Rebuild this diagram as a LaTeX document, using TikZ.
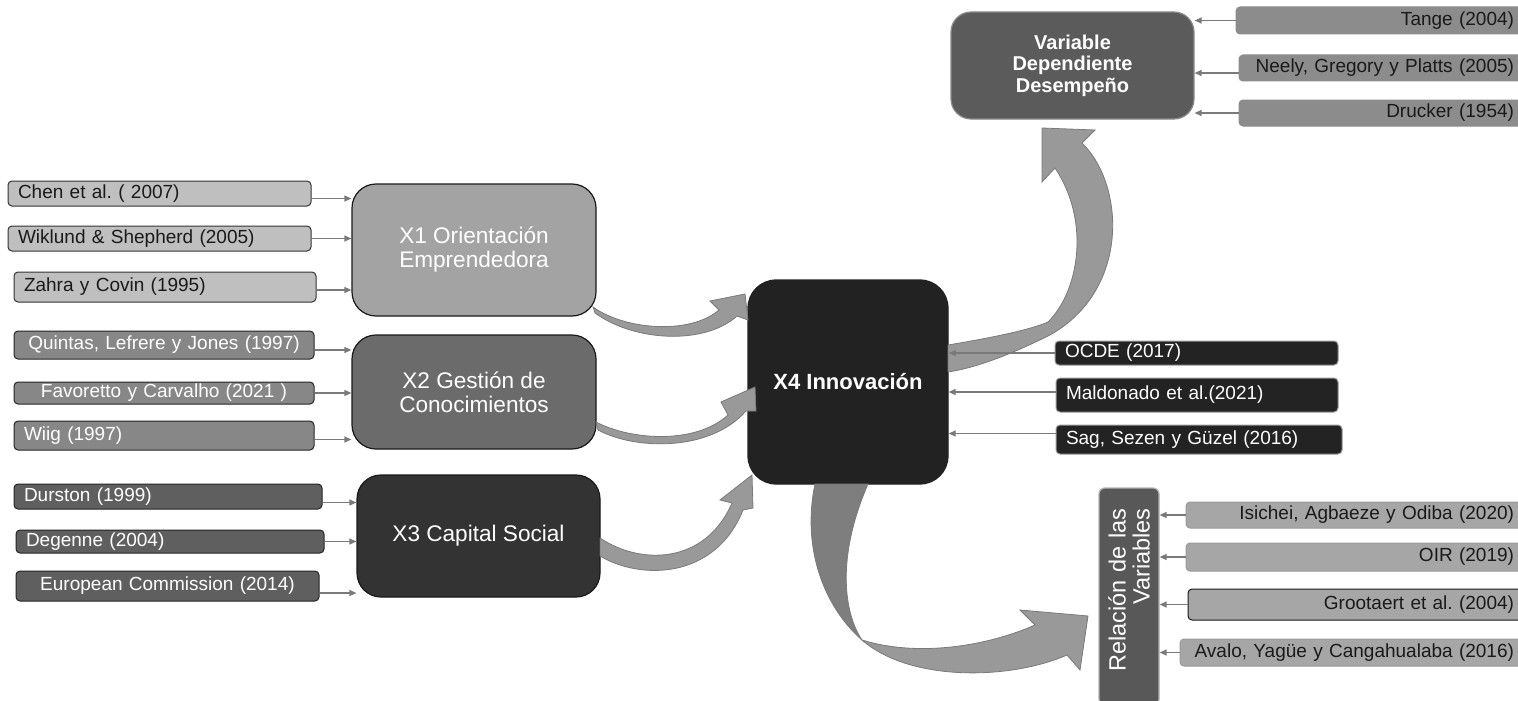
\documentclass[tikz,border=0pt]{standalone}
\usepackage{fontspec}
\setmainfont{Liberation Sans}
\usetikzlibrary{arrows.meta}
\definecolor{lightfill}{HTML}{BFBFBF}
\definecolor{midfill}{HTML}{878787}
\definecolor{darkfill}{HTML}{5F5F5F}
\definecolor{topfill}{HTML}{8C8C8C}
\definecolor{blackfill}{HTML}{232323}
\definecolor{palefill}{HTML}{A6A6A6}
\definecolor{xonefill}{HTML}{A3A3A3}
\definecolor{xtwofill}{HTML}{6B6B6B}
\definecolor{xthreefill}{HTML}{333333}
\definecolor{xfourfill}{HTML}{222222}
\definecolor{depfill}{HTML}{5B5B5B}
\definecolor{relfill}{HTML}{585858}
\definecolor{bandfill}{HTML}{999999}
\definecolor{banddark}{HTML}{7E7E7E}
\definecolor{bandline}{HTML}{7A7A7A}
\definecolor{linkgray}{HTML}{7A7A7A}
\definecolor{inktext}{HTML}{1A1A1A}
\newcommand\reffont{\fontsize{19}{22}\selectfont}
\newcommand\topicfont{\fontsize{22.6}{24}\selectfont}
\newcommand\innofont{\fontsize{22}{24}\selectfont\bfseries}
\newcommand\depfont{\fontsize{20}{21.5}\selectfont\bfseries}
\newcommand\relfont{\fontsize{23.5}{24}\selectfont}
\frenchspacing
\tikzset{ref/.style={rounded corners=4pt,inner xsep=10pt,inner ysep=0pt,line width=1pt,font=\reffont},
  lightref/.style={ref,fill=lightfill,draw=black!80,text=inktext},
  midref/.style={ref,fill=midfill,draw=black!85,text=white},
  darkref/.style={ref,fill=darkfill,draw=black!85,text=white},
  topref/.style={ref,fill=topfill,draw=black!45,text=inktext},
  blackref/.style={ref,fill=blackfill,draw=black!40,text=white},
  paleref/.style={ref,fill=palefill,draw=black!40,text=inktext},
  topic/.style={rounded corners=24pt,line width=1.2pt,align=center,text=white,font=\topicfont,draw=black!90,inner sep=0pt},
  link/.style={-{Triangle[length=7pt,width=6pt]},line width=1.2pt,draw=linkgray,fill=linkgray},
  band/.style={fill=bandfill,draw=bandline,line width=0.8pt}}

\begin{document}
\begin{tikzpicture}[x=1pt,y=-1pt]
  \useasboundingbox (0,0) rectangle (1518,701);
  \fill[white] (0,0) rectangle (1518,701);
  % X1 group
  \node[lightref,text width=283pt,align=left,minimum height=25pt] (chen) at (159.5,193.5) {\raisebox{-6pt}{Chen et al. ( 2007)}};
  \node[lightref,text width=283pt,align=left,minimum height=25pt] (wiklund) at (159.5,238.5) {Wiklund \& Shepherd (2005)};
  \node[lightref,text width=282pt,align=left,minimum height=30pt] (zahra) at (165,287) {Zahra y Covin (1995)};
  \node[topic,fill=xonefill,minimum width=244pt,minimum height=132pt] (x1) at (474,250) {\raisebox{-4pt}{X1 Orientación}\\\raisebox{-4pt}{Emprendedora}};
  % X2 group
  \node[midref,text width=280pt,align=center,minimum height=28pt] (quintas) at (164,345) {Quintas, Lefrere y Jones (1997)};
  \node[midref,text width=280pt,align=center,minimum height=22pt] (favoretto) at (164,393) {Favoretto y Carvalho (2021 )};
  \node[midref,text width=280pt,align=left,minimum height=29pt] (wiig) at (164,435.5) {Wiig (1997)};
  \node[topic,fill=xtwofill,minimum width=244pt,minimum height=114pt] (x2) at (474,392) {X2 Gestión de\\Conocimientos};
  % X3 group
  \node[darkref,text width=288pt,align=left,minimum height=25pt] (durston) at (168,496.5) {Durston (1999)};
  \node[darkref,text width=288pt,align=left,minimum height=23pt] (degenne) at (170,541.5) {Degenne (2004)};
  \node[darkref,text width=283pt,align=center,minimum height=30pt] (european) at (167.5,586) {European Commission (2014)};
  \node[topic,fill=xthreefill,minimum width=243pt,minimum height=122pt] (x3) at (478.5,536) {X3 Capital Social};
  % X4
  \node[topic,fill=xfourfill,draw=xfourfill,rounded corners=28pt,font=\innofont,minimum width=200pt,minimum height=204pt] (x4) at (848,382) {X4 Innovación};
  \node[blackref,text width=263pt,align=left,minimum height=24pt] (ocde) at (1196.5,353) {OCDE (2017)};
  \node[blackref,text width=262pt,align=left,minimum height=34pt] (maldonado) at (1197,395) {Maldonado et al.(2021)};
  \node[blackref,text width=266pt,align=left,minimum height=29pt] (sag) at (1199,439.5) {\raisebox{-3pt}{Sag, Sezen y Güzel (2016)}};
  % dependent variable
  \node[topic,fill=depfill,draw=black!45,rounded corners=20pt,font=\depfont,minimum width=243pt,minimum height=107pt] (dep) at (1072.5,65.5) {\raisebox{-4pt}{Variable}\\\raisebox{-4pt}{Dependiente}\\\raisebox{-4pt}{Desempeño}};
  \node[topref,text width=268pt,align=right,minimum height=27pt] (tange) at (1380,20.5) {Tange (2004)};
  \node[topref,text width=265pt,align=right,minimum height=26pt] (neely) at (1381.5,68) {Neely, Gregory y Platts (2005)};
  \node[topref,text width=265pt,align=right,minimum height=26pt] (drucker) at (1381.5,113) {Drucker (1954)};
  % relation of variables
  \node[topic,fill=relfill,draw=black!30,rounded corners=6pt,rotate=90,font=\relfont,text width=176pt,align=right,minimum width=217pt,minimum height=60pt] (rel) at (1129,596.5) {Relación de las\\Variables};
  \node[paleref,text width=318pt,align=right,minimum height=26pt] (isichei) at (1355,515) {Isichei, Agbaeze y Odiba (2020)};
  \node[paleref,text width=318pt,align=right,minimum height=28pt] (oir) at (1355,557) {OIR (2019)};
  \node[paleref,draw=black!90,text width=316pt,align=right,minimum height=31pt] (grootaert) at (1356,604.5) {Grootaert et al. (2004)};
  \node[paleref,text width=324pt,align=right,minimum height=27pt] (avalo) at (1352,652.5) {Avalo, Yagüe y Cangahualaba (2016)};
  % curved block arrows
  \draw[band] (593,307) .. controls (625,330) and (690,335) .. (719,310) -- (710,301) -- (745,294) -- (748,320) -- (737,316) .. controls (705,345) and (635,342) .. (595,313) -- cycle;
  \draw[band] (596,422) .. controls (630,440) and (695,445) .. (728,415) -- (721,402) -- (755,387) -- (756,411) -- (746,411) .. controls (710,452) and (635,450) .. (598,430) -- cycle;
  \draw[band] (600,538) .. controls (640,565) and (705,565) .. (732,503) -- (720,500) -- (752,475) -- (753,508) -- (743,510) .. controls (715,580) and (640,580) .. (600,556) -- cycle;
  \draw[band] (948,345) .. controls (990,338) and (1030,330) .. (1048,322) .. controls (1080,290) and (1090,220) .. (1055,168) -- (1042,182) -- (1042,128) -- (1095,130) -- (1082,143) .. controls (1125,185) and (1130,290) .. (1050,335) .. controls (1010,355) and (975,368) .. (948,372) -- cycle;
  \draw[band,fill=banddark] (815,484) .. controls (802,545) and (822,605) .. (862,640) .. controls (845,615) and (835,560) .. (868,484) -- cycle;
  \draw[band] (862,640) .. controls (920,658) and (990,645) .. (1035,625) -- (1020,610) -- (1088,616) -- (1080,670) -- (1067,655) .. controls (1010,680) and (910,682) .. (862,640) -- cycle;
  % reference arrows
  \foreach \src/\dst/\dy in {chen/x1/-5,wiklund/x1/0,zahra/x1/-3,quintas/x2/-5,favoretto/x2/0,wiig/x2/-4,durston/x3/-6,degenne/x3/0,european/x3/-7}
    \draw[link] ([yshift=\dy pt]\src.east) coordinate (p) -- (p -| \dst.west);
  \foreach \src/\dst/\side/\dy in {tange/dep/east/0,neely/dep/east/-5,drucker/dep/east/0,ocde/x4/east/0,maldonado/x4/east/3,sag/x4/east/6,isichei/rel/south/0,oir/rel/south/0,grootaert/rel/south/0,avalo/rel/south/0}
    \draw[link] ([yshift=\dy pt]\src.west) coordinate (p) -- (p -| \dst.\side);
\end{tikzpicture}
\end{document}
